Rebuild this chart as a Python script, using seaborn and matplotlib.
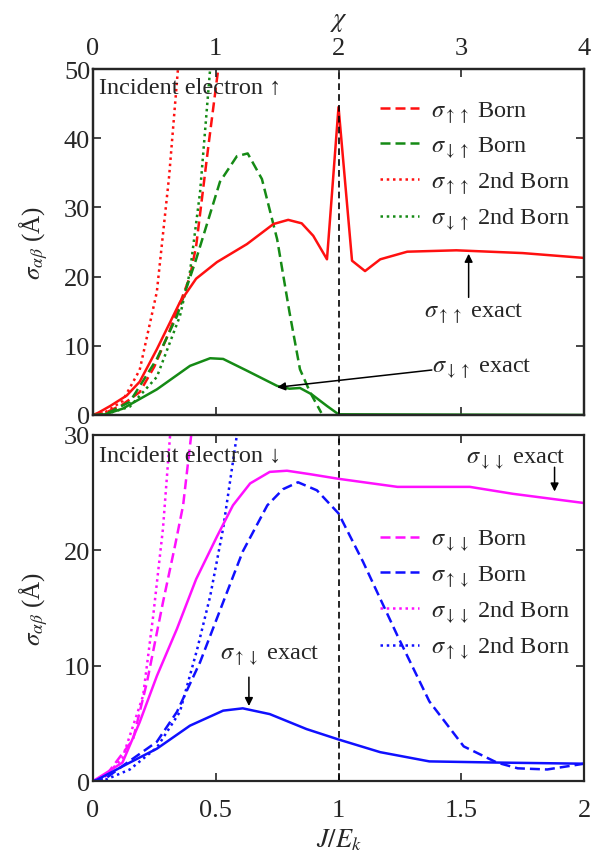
import matplotlib
matplotlib.use("Agg")
import matplotlib.pyplot as plt
import seaborn as sns
from matplotlib.lines import Line2D

# ---- data (x = J/E_k) ----
# top panel: incident electron up
uu_exact_x = [0.0, 0.02, 0.07, 0.137, 0.19, 0.26, 0.354, 0.42, 0.505, 0.627, 0.735, 0.795, 0.85,
              0.897, 0.953, 1.0, 1.055, 1.108, 1.17, 1.28, 1.48, 1.75, 2.0]
uu_exact_y = [0.0, 0.3, 1.3, 2.8, 4.8, 9.5, 16.3, 19.7, 22.1, 24.7, 27.6, 28.2, 27.7,
              25.9, 22.5, 44.5, 22.3, 20.8, 22.5, 23.6, 23.8, 23.4, 22.7]
du_exact_x = [0.0, 0.05, 0.12, 0.26, 0.395, 0.477, 0.53, 0.627, 0.75, 0.80, 0.843, 0.89, 0.953, 1.0, 2.0]
du_exact_y = [0.0, 0.1, 0.9, 3.7, 7.1, 8.2, 8.1, 6.4, 4.2, 3.8, 3.9, 3.0, 1.3, 0.1, 0.0]
uu_born_x = [0.0, 0.05, 0.12, 0.19, 0.25, 0.31, 0.395, 0.42, 0.47, 0.51, 0.53]
uu_born_y = [0.0, 0.3, 1.5, 3.3, 7.0, 12.0, 20.0, 24.4, 38.9, 50.0, 55.0]
du_born_x = [0.0, 0.05, 0.15, 0.26, 0.342, 0.42, 0.517, 0.586, 0.63, 0.688, 0.75, 0.80, 0.843, 0.884, 0.93]
du_born_y = [0.0, 0.1, 1.9, 8.1, 14.3, 22.5, 33.7, 37.4, 37.8, 34.1, 25.4, 14.9, 6.6, 3.3, 0.3]
uu_2born_x = [0.0, 0.05, 0.12, 0.19, 0.26, 0.31, 0.346, 0.36]
uu_2born_y = [0.0, 0.4, 2.0, 6.5, 17.8, 34.5, 50.0, 56.0]
du_2born_x = [0.0, 0.05, 0.15, 0.26, 0.354, 0.395, 0.436, 0.477, 0.49]
du_2born_y = [0.0, 0.1, 1.2, 5.5, 14.3, 20.7, 32.2, 50.0, 56.0]

# bottom panel: incident electron down
dd_exact_x = [0.0, 0.016, 0.12, 0.19, 0.26, 0.342, 0.42, 0.505, 0.57, 0.64, 0.72, 0.79, 0.884,
              1.0, 1.24, 1.535, 1.71, 2.0]
dd_exact_y = [0.0, 0.2, 1.6, 5.1, 9.1, 13.2, 17.5, 21.2, 23.9, 25.8, 26.8, 26.9, 26.6,
              26.2, 25.5, 25.5, 24.9, 24.1]
ud_exact_x = [0.0, 0.016, 0.15, 0.26, 0.395, 0.53, 0.61, 0.72, 0.87, 1.0, 1.17, 1.37, 1.645, 2.0]
ud_exact_y = [0.0, 0.1, 1.6, 2.8, 4.8, 6.1, 6.3, 5.8, 4.5, 3.6, 2.5, 1.7, 1.6, 1.5]
dd_born_x = [0.0, 0.05, 0.163, 0.22, 0.285, 0.334, 0.367, 0.40, 0.41]
dd_born_y = [0.0, 0.4, 3.6, 8.6, 15.5, 20.4, 23.9, 30.0, 32.0]
ud_born_x = [0.0, 0.05, 0.12, 0.26, 0.342, 0.436, 0.53, 0.61, 0.71, 0.774, 0.835, 0.912, 1.0,
             1.1, 1.24, 1.37, 1.51, 1.645, 1.73, 1.85, 2.0]
ud_born_y = [0.0, 0.2, 1.3, 3.4, 6.0, 10.3, 15.5, 19.9, 23.9, 25.3, 25.9, 25.2, 23.2,
             19.0, 12.6, 6.9, 3.0, 1.6, 1.1, 1.0, 1.5]
dd_2born_x = [0.0, 0.05, 0.12, 0.204, 0.245, 0.285, 0.314, 0.32]
dd_2born_y = [0.0, 0.4, 2.0, 7.4, 14.3, 21.9, 30.0, 32.0]
ud_2born_x = [0.0, 0.05, 0.15, 0.26, 0.354, 0.424, 0.477, 0.53, 0.586, 0.6]
ud_2born_y = [0.0, 0.1, 1.0, 2.9, 6.0, 11.4, 16.0, 21.9, 30.0, 32.0]

sns.set_style("ticks")
plt.rcParams["font.family"] = ["Liberation Serif", "DejaVu Serif"]
plt.rcParams["mathtext.fontset"] = "stix"
plt.rcParams["xtick.direction"] = "in"
plt.rcParams["ytick.direction"] = "in"
plt.rcParams["axes.linewidth"] = 1.6

RED, GREEN, MAG, BLUE = "#ff1010", "#158a15", "#ff10ff", "#1010ff"
DASH = (0, (4, 2))
DOT = (0, (1, 1.5))
LW = 1.8
FS = 17.5

fig = plt.figure(figsize=(5.94, 8.54), dpi=100)
ax1 = fig.add_axes([0.1566, 0.5129, 0.8266, 0.4051])
ax2 = fig.add_axes([0.1566, 0.0843, 0.8266, 0.4052])


def draw(ax, x, y, color, ls):
    sns.lineplot(x=x, y=y, ax=ax, color=color, linestyle=ls, lw=LW, sort=False, legend=False)


draw(ax1, uu_born_x, uu_born_y, RED, DASH)
draw(ax1, du_born_x, du_born_y, GREEN, DASH)
draw(ax1, uu_2born_x, uu_2born_y, RED, DOT)
draw(ax1, du_2born_x, du_2born_y, GREEN, DOT)
draw(ax1, uu_exact_x, uu_exact_y, RED, "-")
draw(ax1, du_exact_x, du_exact_y, GREEN, "-")

draw(ax2, dd_born_x, dd_born_y, MAG, DASH)
draw(ax2, ud_born_x, ud_born_y, BLUE, DASH)
draw(ax2, dd_2born_x, dd_2born_y, MAG, DOT)
draw(ax2, ud_2born_x, ud_2born_y, BLUE, DOT)
draw(ax2, dd_exact_x, dd_exact_y, MAG, "-")
draw(ax2, ud_exact_x, ud_exact_y, BLUE, "-")

ylab = r"$\sigma_{\alpha\beta}$ (Å)"
for ax, ymax in [(ax1, 50), (ax2, 30)]:
    ax.axvline(1.0, color="black", ls=(0, (4, 2.5)), lw=1.2)
    ax.set_xlim(0, 2)
    ax.set_ylim(0, ymax)
    ax.set_xticks([0, 0.5, 1, 1.5, 2])
    ax.set_yticks(range(0, ymax + 1, 10))
    ax.tick_params(top=True, right=True, length=6, width=1.2, labelsize=19, pad=2)
    ax.tick_params(axis="x", pad=13)
    ax.set_ylabel(ylab, fontsize=18, labelpad=10)
    ax.set_xlabel("")

ax1.tick_params(labelbottom=False, top=False)
ax2.set_xticklabels(["0", "0.5", "1", "1.5", "2"])
ax2.set_xlabel(r"$J/E_k$", fontsize=19, labelpad=4)

# top axis chi
axt = ax1.twiny()
axt.set_xlim(0, 4)
axt.set_xticks([0, 1, 2, 3, 4])
axt.tick_params(direction="in", length=6, width=1.2, labelsize=19, pad=7)
axt.set_xlabel(r"$\chi$", fontsize=19, labelpad=9)

# legends
h1 = [Line2D([], [], color=RED, ls=DASH, lw=LW), Line2D([], [], color=GREEN, ls=DASH, lw=LW),
      Line2D([], [], color=RED, ls=DOT, lw=LW), Line2D([], [], color=GREEN, ls=DOT, lw=LW)]
l1 = [r"$\sigma_{\uparrow\uparrow}$ Born", r"$\sigma_{\downarrow\uparrow}$ Born",
      r"$\sigma_{\uparrow\uparrow}$ 2nd Born", r"$\sigma_{\downarrow\uparrow}$ 2nd Born"]
ax1.legend(h1, l1, loc="upper left", bbox_to_anchor=(0.55, 0.962), frameon=False,
           fontsize=FS, handlelength=1.6, handletextpad=0.5, labelspacing=0.41, borderpad=0.2)

h2 = [Line2D([], [], color=MAG, ls=DASH, lw=LW), Line2D([], [], color=BLUE, ls=DASH, lw=LW),
      Line2D([], [], color=MAG, ls=DOT, lw=LW), Line2D([], [], color=BLUE, ls=DOT, lw=LW)]
l2 = [r"$\sigma_{\downarrow\downarrow}$ Born", r"$\sigma_{\uparrow\downarrow}$ Born",
      r"$\sigma_{\downarrow\downarrow}$ 2nd Born", r"$\sigma_{\uparrow\downarrow}$ 2nd Born"]
ax2.legend(h2, l2, loc="upper left", bbox_to_anchor=(0.55, 0.78), frameon=False,
           fontsize=FS, handlelength=1.6, handletextpad=0.5, labelspacing=0.41, borderpad=0.2)

# annotations
arr = dict(arrowstyle="-|>", color="black", lw=1.1, mutation_scale=12, shrinkA=0, shrinkB=0)
ax1.text(0.025, 47.3, "Incident electron ↑", fontsize=FS, va="center", ha="left")
ax2.text(0.025, 28.2, "Incident electron ↓", fontsize=FS, va="center", ha="left")

ax1.annotate("", xy=(1.53, 23.3), xytext=(1.53, 17.0), arrowprops=arr)
ax1.text(1.55, 14.8, r"$\sigma_{\uparrow\uparrow}$ exact", fontsize=FS, ha="center", va="center")

ax1.annotate("", xy=(0.75, 4.0), xytext=(1.38, 6.5), arrowprops=arr)
ax1.text(1.38, 6.8, r"$\sigma_{\downarrow\uparrow}$ exact", fontsize=FS, ha="left", va="center")

ax2.annotate("", xy=(1.88, 25.1), xytext=(1.88, 27.2), arrowprops=arr)
ax2.text(1.72, 27.9, r"$\sigma_{\downarrow\downarrow}$ exact", fontsize=FS, ha="center", va="center")

ax2.annotate("", xy=(0.635, 6.5), xytext=(0.635, 9.0), arrowprops=arr)
ax2.text(0.72, 10.9, r"$\sigma_{\uparrow\downarrow}$ exact", fontsize=FS, ha="center", va="center")

fig.savefig("out.png", dpi=100)
